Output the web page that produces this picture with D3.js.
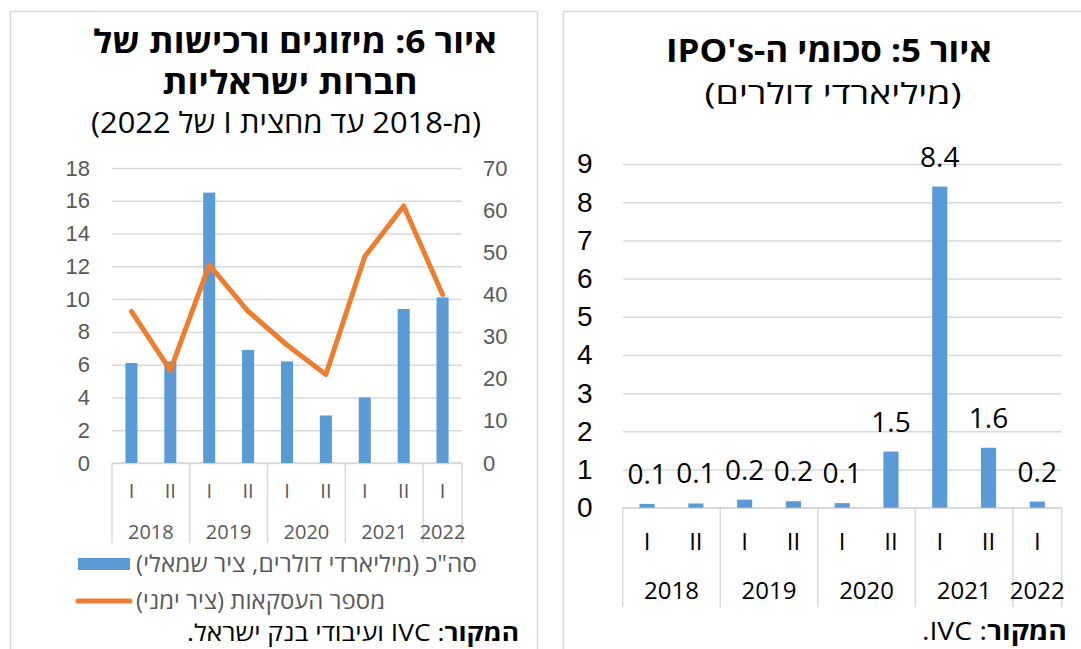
<!DOCTYPE html>
<html>
<head>
<meta charset="utf-8">
<script src="https://cdn.jsdelivr.net/npm/d3@7"></script>
<style>
  body { margin: 0; background: #fff; }
  svg { display: block; font-family: "Open Sans", "Noto Sans", "DejaVu Sans", sans-serif; }
  .rtl { direction: rtl; unicode-bidi: embed; }
</style>
</head>
<body>
<svg id="chart" width="1081" height="649"></svg>
<script>
// shared categories (half-years)
const periods = ["I", "II", "I", "II", "I", "II", "I", "II", "I"];
const years = ["2018", "2019", "2020", "2021", "2022"];
const yearSpans = [2, 2, 2, 2, 1];

// figure 6: M&A
const mnaValue = [6.1, 6.2, 16.5, 6.9, 6.2, 2.9, 4.0, 9.4, 10.1];   // $bn, left axis
const mnaDeals = [36, 22, 47, 36, 28, 21, 49, 61, 40];              // count, right axis
const leftTicks = [0, 2, 4, 6, 8, 10, 12, 14, 16, 18];
const rightTicks = [0, 10, 20, 30, 40, 50, 60, 70];

// figure 5: IPOs
const ipoValue = [0.1, 0.11, 0.21, 0.17, 0.12, 1.47, 8.41, 1.57, 0.16];
const ipoTicks = [0, 1, 2, 3, 4, 5, 6, 7, 8, 9];

const BLUE = "#5b9bd5", ORANGE = "#ed7d31", GRID = "#d9d9d9";
const svg = d3.select("#chart");

// panel frames
svg.append("rect").attr("x", 10.5).attr("y", 11.5).attr("width", 527).attr("height", 700)
  .attr("fill", "none").attr("stroke", GRID).attr("stroke-width", 1.5);
svg.append("rect").attr("x", 563.5).attr("y", 11.5).attr("width", 600).attr("height", 700)
  .attr("fill", "none").attr("stroke", GRID).attr("stroke-width", 1.5);

// hebrew text; width stretches it to the measured width in the reference
function rtlText(g, x, y, size, weight, anchor, parts, fill, width) {
  const t = g.append("text").attr("class", "rtl").attr("x", x).attr("y", y)
    .attr("font-size", size).attr("fill", fill || "#000")
    .attr("text-anchor", anchor);
  parts.forEach(p => {
    t.append("tspan").attr("font-weight", p[1] || weight).text(p[0]);
  });
  if (width) t.attr("textLength", width).attr("lengthAdjust", "spacingAndGlyphs");
  return t;
}

// categorical x axis with half-year and year rows
function catAxis(x, y0, yBottom, qY, yrY, size, color) {
  const idx = d3.range(periods.length);
  const g = svg.append("g");
  g.append("line").attr("x1", x.range()[0]).attr("x2", x.range()[1])
    .attr("y1", y0).attr("y2", y0).attr("stroke", GRID).attr("stroke-width", 1.5);
  let start = 0;
  const bounds = [0];
  yearSpans.forEach(s => { start += s; bounds.push(start); });
  const step = x.step();
  const x0 = x.range()[0];
  bounds.forEach(b => {
    const xx = Math.min(x0 + b * step, x.range()[1]);
    g.append("line").attr("x1", xx).attr("x2", xx).attr("y1", y0).attr("y2", yBottom)
      .attr("stroke", GRID).attr("stroke-width", 1.5);
  });
  g.selectAll(".q").data(idx).enter().append("text")
    .attr("x", i => x(i) + x.bandwidth() / 2).attr("y", qY)
    .attr("text-anchor", "middle").attr("font-size", size).attr("fill", color)
    .text(i => periods[i]);
  g.selectAll(".yr").data(years).enter().append("text")
    .attr("x", (d, i) => x0 + (bounds[i] + bounds[i + 1]) / 2 * step).attr("y", yrY)
    .attr("text-anchor", "middle").attr("font-size", size).attr("fill", color)
    .text(d => d);
}

// ---------- Figure 6 (left) ----------
{
  const TXT = "#595959";
  const x = d3.scaleBand().domain(d3.range(periods.length)).range([112, 462])
    .paddingInner(0.69).paddingOuter(0.345);
  const yL = d3.scaleLinear().domain([0, 18]).range([463, 168]);
  const yR = d3.scaleLinear().domain([0, 70]).range([463, 168]);

  const ga = svg.append("g").attr("transform", "translate(112,0)")
    .call(d3.axisLeft(yL).tickValues(leftTicks).tickSizeInner(-350).tickSizeOuter(0).tickPadding(22));
  ga.select(".domain").remove();
  ga.selectAll(".tick line").attr("stroke", GRID).attr("stroke-width", 1.5);
  ga.selectAll(".tick text").attr("font-size", 22).attr("fill", TXT).attr("font-family", null);

  const gr = svg.append("g").attr("transform", "translate(462,0)")
    .call(d3.axisRight(yR).tickValues(rightTicks).tickSize(0).tickPadding(21));
  gr.select(".domain").remove();
  gr.selectAll(".tick text").attr("font-size", 22).attr("fill", TXT).attr("font-family", null);

  catAxis(x, 463, 543, 498, 539, 20, TXT);

  svg.append("g").selectAll("rect").data(mnaValue).enter().append("rect")
    .attr("x", (d, i) => x(i)).attr("width", x.bandwidth())
    .attr("y", d => yL(d)).attr("height", d => yL(0) - yL(d)).attr("fill", BLUE);

  const line = d3.line().x((d, i) => x(i) + x.bandwidth() / 2).y(d => yR(d));
  svg.append("path").datum(mnaDeals).attr("d", line).attr("fill", "none")
    .attr("stroke", ORANGE).attr("stroke-width", 5).attr("stroke-linejoin", "round")
    .attr("stroke-linecap", "round");

  // titles
  const t = svg.append("g");
  rtlText(t, 295, 53, 32, "bold", "middle", [["איור 6: מיזוגים ורכישות של"]], null, 404);
  rtlText(t, 290, 94, 32, "bold", "middle", [["חברות ישראליות"]], null, 255);
  rtlText(t, 286, 133, 29, "normal", "middle", [["(מ-2018 עד מחצית I של 2022)"]], null, 390);

  // legend
  svg.append("rect").attr("x", 78).attr("y", 558).attr("width", 52).attr("height", 12).attr("fill", BLUE);
  rtlText(t, 477, 572, 23, "normal", "start", [["סה\"כ (מיליארדי דולרים, ציר שמאלי)"]], TXT, 341);
  svg.append("line").attr("x1", 78).attr("x2", 130).attr("y1", 601).attr("y2", 601)
    .attr("stroke", ORANGE).attr("stroke-width", 5).attr("stroke-linecap", "round");
  rtlText(t, 385, 609, 23, "normal", "start", [["מספר העסקאות (ציר ימני)"]], TXT, 249);

  rtlText(t, 519, 641, 23, "normal", "start", [["המקור", "bold"], [": IVC ועיבודי בנק ישראל."]], null, 332);
}

// ---------- Figure 5 (right) ----------
{
  const TXT = "#000";
  const x = d3.scaleBand().domain(d3.range(periods.length)).range([622.7, 1061.7])
    .paddingInner(0.69).paddingOuter(0.345);
  const y = d3.scaleLinear().domain([0, 9]).range([507.7, 164]);

  const ga = svg.append("g").attr("transform", "translate(622.7,0)")
    .call(d3.axisLeft(y).tickValues(ipoTicks).tickSizeInner(-439).tickSizeOuter(0).tickPadding(30));
  ga.select(".domain").remove();
  ga.selectAll(".tick line").attr("stroke", GRID).attr("stroke-width", 1.5);
  ga.selectAll(".tick text").attr("font-size", 28).attr("fill", TXT).attr("font-family", null);

  catAxis(x, 507.7, 607, 550, 599, 24, TXT);

  svg.append("g").selectAll("rect").data(ipoValue).enter().append("rect")
    .attr("x", (d, i) => x(i)).attr("width", x.bandwidth())
    .attr("y", d => y(d)).attr("height", d => y(0) - y(d)).attr("fill", BLUE);

  svg.append("g").selectAll("text").data(ipoValue).enter().append("text")
    .attr("x", (d, i) => x(i) + x.bandwidth() / 2).attr("y", d => y(d) - 20)
    .attr("text-anchor", "middle").attr("font-size", 28).attr("fill", TXT)
    .text(d => d3.format(".1f")(d));

  const t = svg.append("g");
  rtlText(t, 829, 62, 32, "bold", "middle", [["איור 5: סכומי ה-IPO's"]], null, 326);
  rtlText(t, 833, 104, 29, "normal", "middle", [["(מיליארדי דולרים)"]], null, 257);
  rtlText(t, 1067, 640, 25, "normal", "start", [["המקור", "bold"], [": IVC."]], null, 145);
}
</script>
</body>
</html>
